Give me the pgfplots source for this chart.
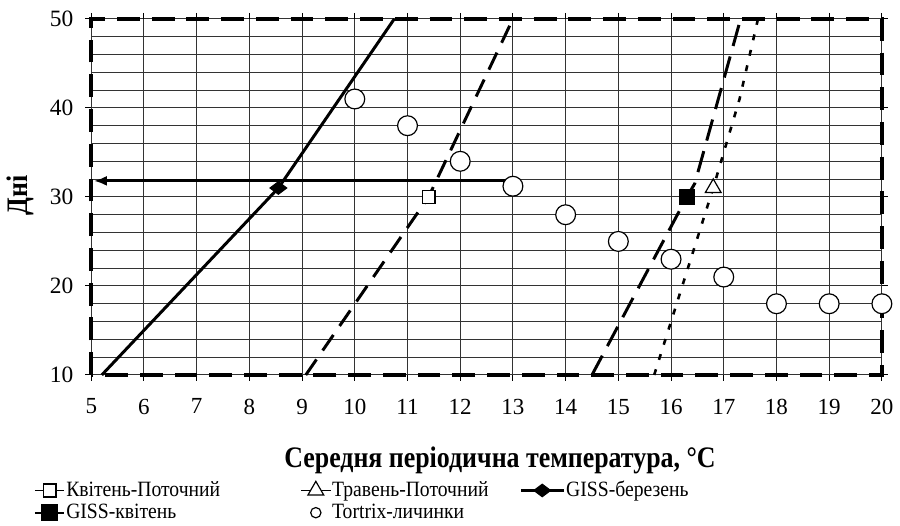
\documentclass[border=0pt]{standalone}
\usepackage{fontspec}
\setmainfont{Liberation Serif}
\newfontfamily\labelfont{Liberation Serif}[FakeStretch=0.87]
\newfontfamily\legfont{Liberation Serif}[FakeStretch=0.9]
\usepackage{pgfplots}
\pgfplotsset{compat=1.18}
\usetikzlibrary{arrows.meta}
\pgfplotsset{
  shortleg/.style={legend image code/.code={\draw[mark repeat=2,mark phase=2,##1] plot coordinates {(0cm,0cm) (0.26cm,0cm) (0.52cm,0cm)};}},
  longleg/.style={legend image code/.code={\draw[mark repeat=2,mark phase=2,##1] plot coordinates {(0cm,0cm) (0.38cm,0cm) (0.76cm,0cm)};}},
  circleg/.style={legend image code/.code={\draw[black, line width=0.6pt, fill=white] (0.26cm,0cm) circle (2.6pt);}},
}
\begin{document}
\begin{tikzpicture}
\begin{axis}[
  scale only axis, width=398.5pt, height=179.5pt,
  xmin=5, xmax=20, ymin=10, ymax=50,
  xtick={5,...,20}, ytick={10,20,...,50},
  minor ytick={12,14,16,18,22,24,26,28,32,34,36,38,42,44,46,48},
  grid=both,
  major grid style={black!80, line width=0.5pt},
  minor grid style={black!80, line width=0.5pt},
  tick align=outside, major tick length=3pt, minor tick length=0pt,
  tick style={black, line width=0.5pt},
  axis line style={line width=1.8pt, dash pattern=on 11.5pt off 6pt},
  /pgf/number format/assume math mode=true,
  xticklabel style={font=\fontsize{11.6}{13}\selectfont, yshift=-5.5pt},
  yticklabel style={font=\fontsize{11.8}{14}\selectfont, xshift=-2.5pt},
  xlabel={Середня періодична температура, °C},
  ylabel={Дні},
  label style={font=\labelfont\bfseries\fontsize{15}{17}\selectfont},
  xlabel style={at={(axis description cs:0.517,-0.24)}, anchor=center},
  ylabel style={at={(axis description cs:-0.09,0.504)}, anchor=center},
  clip=false,
  legend columns=3,
  legend cell align=left,
  shortleg,
  legend style={at={(axis description cs:-0.073,-0.292)}, anchor=north west, draw=none, fill=none,
    font=\legfont\fontsize{11}{12}\selectfont, inner sep=0pt,
    nodes={inner sep=0.5pt, text height=8pt, text depth=2.2pt},
    /tikz/column 2/.style={column sep=40pt},
    /tikz/column 4/.style={column sep=15pt}},
]
% invisible bounding box (900x530 px)
\path (axis cs:3.3438,52.117) rectangle (axis cs:20.2825,-6.936);

\addplot[black, line width=0.6pt, mark=square*, mark size=3.25pt, mark options={fill=white}]
  coordinates {(11.4,30)};
\addlegendentry{Квітень-Поточний}
\addplot[black, line width=0.6pt, mark=triangle*, mark size=4.6pt, mark options={fill=white}]
  coordinates {(16.8,31)};
\addlegendentry{Травень-Поточний}
\addplot[black, line width=1.5pt, mark=diamond*, mark size=4.25pt, mark options={rotate=90, line width=0.5pt}, longleg]
  coordinates {(8.55,31)};
\addlegendentry{GISS-березень}
\addplot[black, line width=1pt, mark=square*, mark size=3.9pt, mark options={line width=0.5pt}]
  coordinates {(16.3,30)};
\addlegendentry{GISS-квітень}
\addplot[black, only marks, mark=*, mark size=5pt, mark options={fill=white, line width=0.6pt}, circleg]
  coordinates {(10,41) (11,38) (12,34) (13,31.2) (14,28) (15,25) (16,23) (17,21) (18,18) (19,18) (20,18)};
\addlegendentry{Tortrix-личинки}

% trend lines
\addplot[forget plot, black, line width=1.5pt] coordinates {(5.2,10) (8.55,31) (10.75,50)};
\addplot[forget plot, black, line width=1.5pt, dash pattern=on 9.5pt off 5.5pt] coordinates {(9.07,10) (11.4,30) (13.0,50)};
\addplot[forget plot, black, line width=1.5pt, dash pattern=on 11pt off 5.5pt] coordinates {(14.5,10) (16.3,30) (16.45,31.5) (17.32,50)};
\addplot[forget plot, black, line width=1.3pt, dash pattern=on 3pt off 5pt] coordinates {(15.68,10) (16.8,31) (17.3,41) (17.65,50)};
% arrow
\addplot[forget plot, black, line width=1.5pt, -{Latex[length=6.5pt,width=5pt]}] coordinates {(13.05,31.8) (5.05,31.8)};
\end{axis}
\end{tikzpicture}
\end{document}
